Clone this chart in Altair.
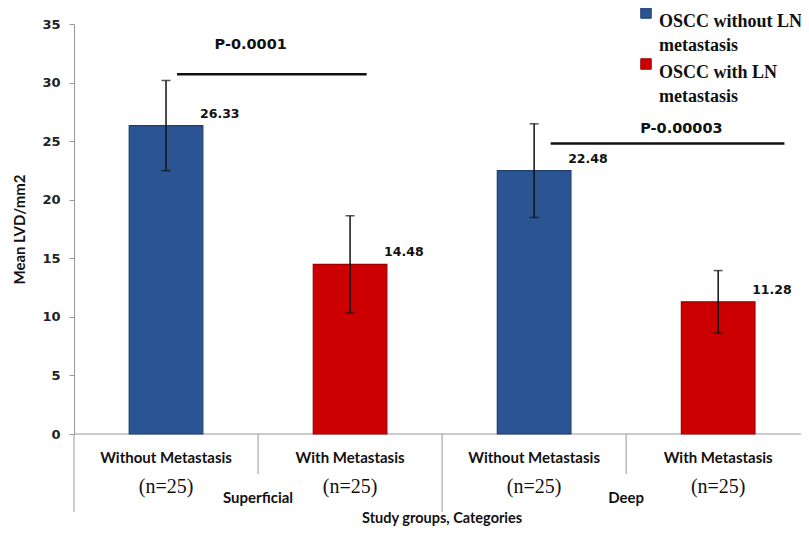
import altair as alt
import pandas as pd

# ---------------- data ----------------
groups = ["Superficial", "Superficial", "Deep", "Deep"]
categories = ["Without Metastasis", "With Metastasis", "Without Metastasis", "With Metastasis"]
series = ["OSCC without LN metastasis", "OSCC with LN metastasis",
          "OSCC without LN metastasis", "OSCC with LN metastasis"]
means = [26.33, 14.48, 22.48, 11.28]
sds = [3.85, 4.15, 4.0, 2.67]
n_labels = ["(n=25)", "(n=25)", "(n=25)", "(n=25)"]
value_labels = ["26.33", "14.48", "22.48", "11.28"]

group_names = ["Superficial", "Deep"]

p_texts = ["P-0.0001", "P-0.00003"]
p_start = [0.56, 2.59]
p_end = [1.59, 3.86]
p_level = [30.7, 24.8]
p_text_x = [0.96, 3.30]
p_text_y = [33.2, 26.0]

series_domain = ["OSCC without LN metastasis", "OSCC with LN metastasis"]
series_colors = ["#2B5592", "#CC0000"]
series_strokes = ["#1E3F72", "#9E0000"]

# ---------------- tables ----------------
n = len(means)
bars = pd.DataFrame({
    "idx": list(range(n)),
    "group": groups,
    "category": categories,
    "series": series,
    "mean": means,
    "sd": sds,
    "nlab": n_labels,
    "vlab": value_labels,
})
bars["center"] = bars["idx"] + 0.5
bars["left"] = bars["idx"] + 0.3
bars["right"] = bars["idx"] + 0.7
bars["lo"] = bars["mean"] - bars["sd"]
bars["hi"] = bars["mean"] + bars["sd"]

grp = pd.DataFrame({"group": group_names, "gx": [1.0 + 2 * i for i in range(len(group_names))]})
short_sep = pd.DataFrame({"sx": [2 * i + 1 for i in range(len(group_names))]})
long_sep = pd.DataFrame({"sx": [2 * i for i in range(len(group_names) + 1)]})
pv = pd.DataFrame({"txt": p_texts, "x1": p_start, "x2": p_end, "lvl": p_level,
                   "tx": p_text_x, "ty": p_text_y})

W, H = 727, 410
xs = alt.Scale(domain=[0, 3.95], nice=False, zero=False)
ys = alt.Scale(domain=[0, 35], nice=False)

X = lambda f: alt.X(f, type="quantitative", scale=xs, axis=None)
Y_axis = alt.Axis(values=[0, 5, 10, 15, 20, 25, 30, 35], grid=False, tickSize=5,
                  labelFont="DejaVu Sans", labelFontWeight="bold", labelFontSize=13,
                  labelColor="#222", labelPadding=9, domainColor="#999", tickColor="#999",
                  title="Mean LVD/mm2", titleFont="Lato", titleFontWeight="bold",
                  titleFontSize=15, titleColor="#111", titlePadding=14)

base_bars = alt.Chart(bars)

bar_layer = base_bars.mark_bar(strokeWidth=1.2).encode(
    x=X("left"), x2="right",
    y=alt.Y("mean:Q", scale=ys, axis=Y_axis),
    y2=alt.datum(0),
    color=alt.Color("series:N", scale=alt.Scale(domain=series_domain, range=series_colors),
                    legend=alt.Legend(
                        title=None, orient="none", legendX=563, legendY=-20,
                        symbolType="square", symbolSize=110,
                        symbolStrokeColor="#1E3F72", symbolStrokeWidth=1,
                        labelFont="Liberation Serif", labelFontWeight="bold",
                        labelFontSize=18, labelColor="#111", labelBaseline="top",
                        labelLimit=300, rowPadding=0, padding=0, labelOffset=4,
                        labelExpr="[slice(datum.label, 0, indexof(datum.label, ' metastasis')), 'metastasis']",
                    )),
    stroke=alt.Stroke("series:N", scale=alt.Scale(domain=series_domain, range=series_strokes), legend=None),
)

err_rule = base_bars.mark_rule(color="#111", strokeWidth=1.5).encode(
    x=X("center"), y=alt.Y("lo:Q", scale=ys), y2="hi")
err_top = base_bars.mark_tick(color="#111", thickness=1.5, size=9, orient="horizontal").encode(
    x=X("center"), y=alt.Y("hi:Q", scale=ys))
err_bot = base_bars.mark_tick(color="#111", thickness=1.5, size=9, orient="horizontal").encode(
    x=X("center"), y=alt.Y("lo:Q", scale=ys))

val_text = base_bars.mark_text(font="DejaVu Sans", fontWeight="bold", fontSize=12.5,
                               color="#111", align="left", dx=34, dy=-12).encode(
    x=X("center"), y=alt.Y("mean:Q", scale=ys), text="vlab:N")

cat_text = base_bars.mark_text(font="Lato", fontWeight="bold", fontSize=15,
                               color="#111", dy=24).encode(
    x=X("center"), y=alt.datum(0), text="category:N")
n_text = base_bars.mark_text(font="Liberation Serif", fontSize=20,
                             color="#111", dy=53).encode(
    x=X("center"), y=alt.datum(0), text="nlab:N")

grp_text = alt.Chart(grp).mark_text(font="Lato", fontWeight="bold", fontSize=15,
                                    color="#111", dy=64).encode(
    x=X("gx"), y=alt.datum(0), text="group:N")

xtitle = alt.Chart(grp).transform_aggregate(mx="mean(gx)").mark_text(
    font="Lato", fontWeight="bold", fontSize=14.5, color="#111", dy=85).encode(
    x=X("mx"), y=alt.datum(0), text=alt.value("Study groups, Categories"))

zero_line = alt.Chart(long_sep).transform_aggregate(a="min(sx)", b="max(sx)").mark_rule(
    color="#999", strokeWidth=1).encode(x=X("a"), x2="b", y=alt.datum(0))

short_rules = alt.Chart(short_sep).mark_rule(color="#999", strokeWidth=1).encode(
    x=X("sx"), y=alt.datum(0), y2=alt.value(H + 40))
long_rules = alt.Chart(long_sep).mark_rule(color="#999", strokeWidth=1).encode(
    x=X("sx"), y=alt.datum(0), y2=alt.value(H + 78))

p_lines = alt.Chart(pv).mark_rule(color="#111", strokeWidth=2.5).encode(
    x=X("x1"), x2="x2", y=alt.Y("lvl:Q", scale=ys))
p_labels = alt.Chart(pv).mark_text(font="DejaVu Sans", fontWeight="bold", fontSize=14.5,
                                   color="#111").encode(
    x=X("tx"), y=alt.Y("ty:Q", scale=ys), text="txt:N")

chart = alt.layer(
    zero_line, short_rules, long_rules,
    bar_layer, err_rule, err_top, err_bot, val_text,
    cat_text, n_text, grp_text, xtitle, p_lines, p_labels,
).properties(
    width=W, height=H,
    autosize=alt.AutoSizeParams(type="none"),
    padding={"left": 66, "top": 16, "right": 0, "bottom": 94},
    background="white",
).configure(
    style={"guide-label": {"lineHeight": 24}}
).configure_view(stroke=None)

chart.save("out.html", embed_options={"renderer": "svg", "actions": False})
